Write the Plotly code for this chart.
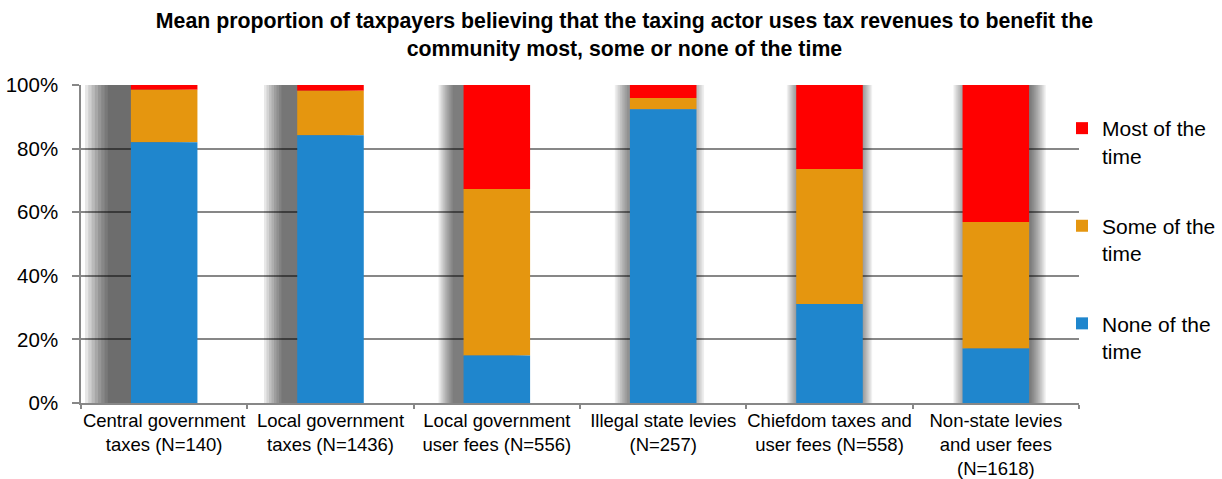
import plotly.graph_objects as go

# ---------------- data ----------------
categories = [
    "Central government<br>taxes (N=140)",
    "Local government<br>taxes (N=1436)",
    "Local government<br>user fees (N=556)",
    "Illegal state levies<br>(N=257)",
    "Chiefdom taxes and<br>user fees (N=558)",
    "Non-state levies<br>and user fees<br>(N=1618)",
]
none_of_time = [82.0, 84.2, 14.9, 92.4, 31.1, 17.1]
some_of_time = [16.5, 14.0, 52.4, 3.5, 42.5, 39.8]
most_of_time = [1.5, 1.8, 32.7, 4.1, 26.4, 43.1]

series_names = ["Most of the<br>time", "Some of the<br>time", "None of the<br>time"]
y_tick_values = [0, 20, 40, 60, 80, 100]
y_tick_labels = ["0%", "20%", "40%", "60%", "80%", "100%"]
title_text = ("Mean proportion of taxpayers believing that the taxing actor uses tax revenues to benefit the"
              "<br>community most, some or none of the time")

# ---------------- style ----------------
FONT = "Liberation Sans, Arial, sans-serif"
C_NONE = "#1F86CD"
C_SOME = "#E5960F"
C_MOST = "#FF0000"
GRID = "#878787"
BAR_W = 0.4
# shadow look (pixels), per bar: left/right edge shift, blur, darkness
SHADOW_DL = [-34.5, -24.5, -18, -9, -5, -2]
SHADOW_DR = [-20, -15, -10, 1.5, 5, 9.5]
SHADOW_BLUR = [13, 10, 8, 7, 5, 8]
SHADOW_ALPHA = [0.56, 0.53, 0.5, 0.42, 0.38, 0.5]
N_LAYERS = 8

W, H = 1222, 479
ML, MR, MT, MB = 81, 143, 85, 76
unit_px = (W - ML - MR) / len(categories)

totals = [a + b + c for a, b, c in zip(none_of_time, some_of_time, most_of_time)]
base_some = list(none_of_time)
base_most = [a + b for a, b in zip(none_of_time, some_of_time)]

fig = go.Figure()

# blurred drop shadows (layered translucent bars)
for k in range(N_LAYERS):
    offs, wids, cols = [], [], []
    for i in range(len(categories)):
        t = SHADOW_BLUR[i] * (1 - 2 * (k + 0.5) / N_LAYERS)
        offs.append(-BAR_W / 2 + (SHADOW_DL[i] - t) / unit_px)
        wids.append(BAR_W + (SHADOW_DR[i] - SHADOW_DL[i] + 2 * t) / unit_px)
        a = 1 - (1 - SHADOW_ALPHA[i]) ** (1 / N_LAYERS)
        cols.append(f"rgba(0,0,0,{a:.4f})")
    fig.add_trace(go.Bar(
        x=categories, y=totals, base=[0] * len(categories),
        offset=offs, width=wids, marker=dict(color=cols, line=dict(width=0)),
        showlegend=False, hoverinfo="skip",
    ))

fig.add_trace(go.Bar(x=categories, y=most_of_time, base=base_most, name=series_names[0],
                     marker=dict(color=C_MOST, line=dict(width=0)), width=BAR_W,
                     legendgroup="a"))
fig.add_trace(go.Bar(x=categories, y=some_of_time, base=base_some, name=series_names[1],
                     marker=dict(color=C_SOME, line=dict(width=0)), width=BAR_W,
                     legendgroup="b"))
fig.add_trace(go.Bar(x=categories, y=none_of_time, name=series_names[2],
                     marker=dict(color=C_NONE, line=dict(width=0)), width=BAR_W,
                     legendgroup="c"))

fig.update_layout(
    width=W, height=H, autosize=False,
    margin=dict(l=ML, r=MR, t=MT, b=MB, pad=0, autoexpand=False),
    paper_bgcolor="white", plot_bgcolor="white",
    barmode="overlay",
    font=dict(family=FONT, color="black"),
    title=dict(text=title_text, x=0.511, xref="container", xanchor="center",
               y=1 - 28 / H, yref="container", yanchor="top", automargin=False,
               font=dict(family=FONT, size=21.3, weight="bold", color="black")),
    legend=dict(x=1062 / W, xref="container", xanchor="left",
                y=1 - 108 / H, yref="container", yanchor="top", maxheight=0.9,
                bgcolor="rgba(0,0,0,0)", font=dict(family=FONT, size=21, color="black"),
                traceorder="grouped", tracegroupgap=40, valign="top"),
    xaxis=dict(type="category", range=[-0.5, len(categories) - 0.5],
               showline=True, linecolor=GRID, linewidth=1.5,
               ticks="outside", ticklen=4, tickcolor=GRID, tickwidth=1.5,
               tickson="boundaries", showgrid=False, tickangle=0, automargin=False,
               ticklabelstandoff=0,
               tickfont=dict(family=FONT, size=18.5, color="black")),
    yaxis=dict(range=[0, 100], tickvals=y_tick_values, ticktext=y_tick_labels,
               showgrid=True, gridcolor=GRID, gridwidth=1.5, zeroline=False,
               showline=True, linecolor=GRID, linewidth=1.5,
               ticks="outside", ticklen=7, tickcolor=GRID, tickwidth=1.5,
               ticklabelstandoff=10, automargin=False,
               tickfont=dict(family=FONT, size=20.5, color="black")),
)

fig.write_html("out.html", config={"displayModeBar": False},
               post_script="document.body.style.margin='0';document.body.style.overflow='hidden';")
